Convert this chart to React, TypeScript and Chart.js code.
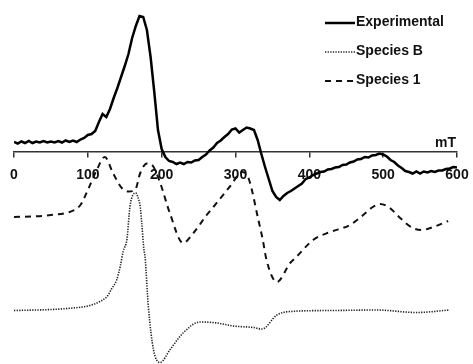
import React, { useEffect, useRef } from 'react';
import { Chart, registerables } from 'chart.js';

Chart.register(...registerables);

// Field positions (mT) and signal intensities (arbitrary units, baseline = 0)
const expField = [
  0, 5, 10, 15, 20, 25, 30, 35, 40, 45, 50, 55, 60, 65, 70, 75, 80, 85, 90, 95,
  100, 105, 110, 115, 120, 125, 130, 135, 140, 145, 150, 155, 160, 165, 170, 175, 180, 185, 190, 195,
  200, 205, 210, 215, 220, 225, 230, 235, 240, 245, 250, 255, 260, 265, 270, 275, 280, 285, 290, 295,
  300, 305, 310, 315, 320, 325, 330, 335, 340, 345, 350, 355, 360, 365, 370, 375, 380, 385, 390, 395,
  400, 405, 410, 415, 420, 425, 430, 435, 440, 445, 450, 455, 460, 465, 470, 475, 480, 485, 490, 495,
  500, 505, 510, 515, 520, 525, 530, 535, 540, 545, 550, 555, 560, 565, 570, 575, 580, 585, 590, 595,
  600,
];
const expSignal = [
  10, 8.5, 10.5, 9, 11, 9, 10.5, 9.5, 11, 9.5, 10.5, 9.5, 11, 9.5, 11.5, 10, 11.5, 10, 12.5, 14,
  17, 18, 21, 30, 38, 35, 43, 54, 64, 75, 86, 98, 114, 126, 136, 135, 122, 95, 60, 22,
  3, -5, -9, -10, -12, -10.5, -12, -10, -10.5, -8.5, -8, -5, -2.5, 1.5, 4.5, 9, 11.5, 15, 18, 22.5,
  23.5, 19.5, 22, 24.5, 23.5, 22, 12, -2, -15, -27, -39, -45, -48, -44, -41, -39, -36.5, -34, -31.5, -27,
  -25.5, -23, -21.5, -20, -19.5, -17.5, -17, -15.5, -15, -13, -12.5, -10.5, -9.5, -7.5, -7, -5, -5.5, -3.5, -3, -1.5,
  -2.5, -4.5, -8, -10, -13.5, -16, -19, -20, -21.5, -19.5, -21.5, -19.5, -20.5, -19, -20, -18.5, -18.5, -17, -16.5, -15,
  -15.5,
];

const sp1Field = [
  0, 25, 50, 75, 90, 100, 112, 123, 134, 146, 155, 164, 171, 180, 187, 198, 211, 229, 243, 261,
  270, 293, 309, 318, 331, 337, 342, 356, 374, 383, 405, 428, 455, 473, 486, 496, 509, 523, 540, 552,
  568, 588,
];
const sp1Signal = [
  -65, -64.5, -63, -60, -53, -38, -18, -5, -21, -36, -39.5, -38, -21, -11.5, -13, -31, -61, -91, -81, -63,
  -55, -34, -20, -27, -68, -88, -108, -130, -111, -104.5, -88, -80, -73, -63, -55, -52, -56, -66, -76, -78,
  -75, -69,
];

const spBField = [
  0, 50, 80, 100, 115, 126, 132, 139, 144, 148, 153, 157, 161, 165, 167, 171, 173, 176, 177.5, 182,
  189, 198, 211, 229, 252, 275, 297, 324, 336, 356, 374, 432, 491, 545, 590,
];
const spBSignal = [
  -158.5, -157.5, -156, -154, -150, -144.5, -137, -128, -114, -99, -87, -55, -43, -41, -43.5, -55, -71, -98, -105, -155,
  -198, -210.5, -198, -181, -170, -171, -174, -175.5, -177, -163, -159.5, -158.5, -158, -160.5, -158,
];

const seriesNames = ['Experimental', 'Species B', 'Species 1'];
const xTicks = [0, 100, 200, 300, 400, 500, 600];
const unitLabel = 'mT';

const FONT_FAMILY = '"Liberation Sans", Arial, Helvetica, sans-serif';

const toPoints = (xs: number[], ys: number[]) => xs.map((x, i) => ({ x, y: ys[i] }));

const overlayPlugin = {
  id: 'overlayLegend',
  afterDatasetsDraw(chart: any) {
    const ctx = chart.ctx as CanvasRenderingContext2D;
    const xs = chart.scales.x;
    const ys = chart.scales.y;
    ctx.save();
    // unit label
    ctx.font = `bold 14px ${FONT_FAMILY}`;
    ctx.fillStyle = '#111';
    ctx.textAlign = 'right';
    ctx.textBaseline = 'alphabetic';
    ctx.fillText(unitLabel, xs.getPixelForValue(xTicks[xTicks.length - 1]) - 1, ys.getPixelForValue(0) - 5);
    // legend
    chart.data.datasets.forEach((ds: any, i: number) => {
      const y = 23 + i * 29;
      ctx.strokeStyle = ds.borderColor;
      ctx.lineWidth = ds.borderWidth;
      ctx.setLineDash(ds.borderDash || []);
      ctx.beginPath();
      ctx.moveTo(325, y);
      ctx.lineTo(355, y);
      ctx.stroke();
      ctx.setLineDash([]);
      ctx.font = `bold 14px ${FONT_FAMILY}`;
      ctx.fillStyle = '#111';
      ctx.textAlign = 'left';
      ctx.textBaseline = 'middle';
      ctx.fillText(ds.label, 356, y - 0.5);
    });
    ctx.restore();
  },
};

export default function App() {
  const canvasRef = useRef<HTMLCanvasElement | null>(null);

  useEffect(() => {
    if (!canvasRef.current) return;
    const chart = new Chart(canvasRef.current, {
      type: 'line',
      data: {
        datasets: [
          {
            label: seriesNames[0],
            data: toPoints(expField, expSignal),
            borderColor: '#000',
            borderWidth: 2.5,
            tension: 0,
            pointRadius: 0,
          },
          {
            label: seriesNames[1],
            data: toPoints(spBField, spBSignal),
            borderColor: '#222',
            borderWidth: 1.6,
            borderDash: [1.3, 1.3],
            cubicInterpolationMode: 'monotone',
            pointRadius: 0,
          },
          {
            label: seriesNames[2],
            data: toPoints(sp1Field, sp1Signal),
            borderColor: '#111',
            borderWidth: 2,
            borderDash: [6, 5],
            cubicInterpolationMode: 'monotone',
            pointRadius: 0,
          },
        ],
      },
      options: {
        responsive: false,
        animation: false,
        events: [],
        layout: { padding: { left: 14, right: 16, top: 0, bottom: 0 } },
        plugins: { legend: { display: false }, tooltip: { enabled: false } },
        scales: {
          x: {
            type: 'linear',
            min: 0,
            max: 600,
            position: { y: 0 } as any,
            grid: {
              display: true,
              drawOnChartArea: false,
              drawTicks: true,
              tickLength: 5,
              color: '#333',
              lineWidth: 1.5,
            },
            border: { display: true, color: '#333', width: 1.5 },
            ticks: {
              autoSkip: false,
              maxRotation: 0,
              padding: 10,
              color: '#111',
              font: { family: FONT_FAMILY, size: 14, weight: 'bold' },
            },
            afterBuildTicks: (scale: any) => {
              scale.ticks = xTicks.map((v) => ({ value: v }));
            },
            afterFit: (scale: any) => {
              scale.paddingLeft = 0;
              scale.paddingRight = 0;
            },
          },
          y: { type: 'linear', display: false, min: -212, max: 152 },
        },
      },
      plugins: [overlayPlugin],
    } as any);
    return () => chart.destroy();
  }, []);

  return (
    <div style={{ position: 'fixed', left: 0, top: 0, width: 473, height: 364, background: '#fff' }}>
      <canvas ref={canvasRef} width={473} height={364} style={{ display: 'block' }} />
    </div>
  );
}
